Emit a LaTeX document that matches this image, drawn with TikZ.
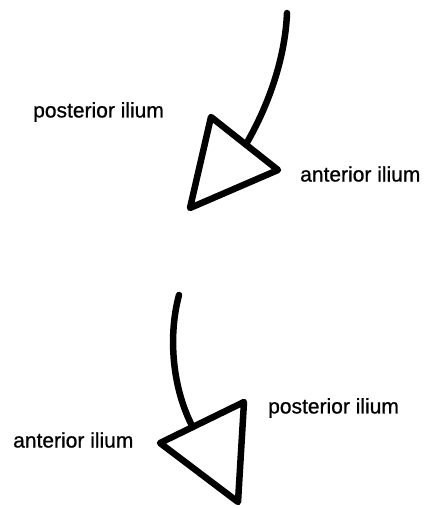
\documentclass[tikz,border=0pt]{standalone}
\usepackage{fontspec}
\setmainfont{Liberation Sans}[FakeBold=0.8]
\usetikzlibrary{positioning,calc}

\begin{document}
\begin{tikzpicture}[
  x=1pt,y=-1pt,
  bone/.style={line width=6.5pt,line join=round,line cap=round},
  lbl/.style={font=\fontsize{21}{24}\selectfont,inner sep=0pt,anchor=west}
]
  \useasboundingbox (0,0) rectangle (428,508);
  % upper view
  \coordinate (utop) at (211,117);
  \coordinate (uright) at (278,170);
  \coordinate (uleft) at (190,208);
  \coordinate (ustart) at (287,13);
  \coordinate (uhit) at ($(utop)!0.52!(uright)$);
  \draw[bone] (utop) -- (uright) -- (uleft) -- cycle;
  \draw[bone] (ustart) .. controls (285,62) and (266,110) .. (uhit);
  \node[lbl] (upost) at (33,112) {posterior ilium};
  \node[lbl] (uant) at (300,174) {anterior ilium};
  % lower view
  \coordinate (ltop) at (244,402);
  \coordinate (lleft) at (160,443);
  \coordinate (lbottom) at (238,502);
  \coordinate (lstart) at (179,295);
  \coordinate (lhit) at ($(lleft)!0.39!(ltop)$);
  \draw[bone] (ltop) -- (lleft) -- (lbottom) -- cycle;
  \draw[bone] (lstart) .. controls (167,340) and (174,392) .. (lhit);
  \node[lbl] (lpost) at (268,408) {posterior ilium};
  \node[lbl] (lant) at (13,440) {anterior ilium};
\end{tikzpicture}
\end{document}
